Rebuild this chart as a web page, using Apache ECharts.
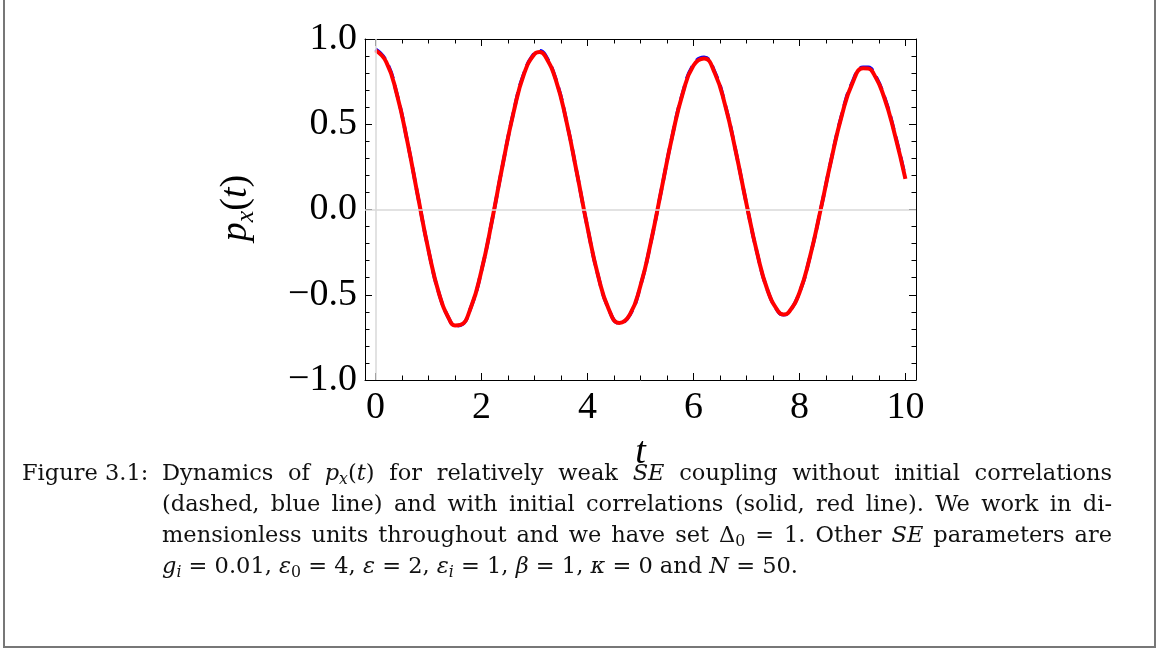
<!DOCTYPE html>
<html>
<head>
<meta charset="utf-8">
<script src="https://cdn.jsdelivr.net/npm/echarts@6/dist/echarts.min.js"></script>
<style>
    html, body { margin: 0; padding: 0; background: #fff; }
    #wrap { position: relative; width: 1160px; height: 651px; overflow: hidden; }
    #chart { position: absolute; left: 0; top: 0; width: 1160px; height: 651px; }
    #frame {
        position: absolute; left: 3px; top: -10px; width: 1153px; height: 658px;
        border-left: 2px solid #777; border-right: 2px solid #777; border-bottom: 2px solid #777;
        box-sizing: border-box;
    }
    #caption {
        position: absolute; left: 22px; top: 457px; width: 1090px;
        font-family: 'DejaVu Serif', serif; font-size: 22.5px; line-height: 31px; color: #111;
    }
    #caption .lab { position: absolute; left: 0; top: 0; }
    #caption .body { margin-left: 140px; }
    #caption .ln { text-align: justify; text-align-last: justify; white-space: nowrap; }
    #caption .ln.last { text-align: left; text-align-last: left; }
    #caption sub { font-size: 70%; vertical-align: -0.25em; line-height: 0; }
</style>
</head>
<body>
<div id="wrap">
    <div id="chart"></div>
    <div id="frame"></div>
    <div id="caption">
        <div class="lab">Figure 3.1:</div>
        <div class="body">
            <div class="ln">Dynamics of <i>p<sub>x</sub></i>(<i>t</i>) for relatively weak <i>SE</i> coupling without initial correlations</div>
            <div class="ln">(dashed, blue line) and with initial correlations (solid, red line). We work in di-</div>
            <div class="ln">mensionless units throughout and we have set Δ<sub>0</sub> = 1. Other <i>SE</i> parameters are</div>
            <div class="ln last"><i>g<sub>i</sub></i> = 0.01, <i>ε</i><sub>0</sub> = 4, <i>ε</i> = 2, <i>ε<sub>i</sub></i> = 1, <i>β</i> = 1, <i>κ</i> = 0 and <i>N</i> = 50.</div>
        </div>
    </div>
</div>
<script>
// 时间点与曲线数值
const tVals = [0, 0.2, 0.4, 0.6, 0.8, 1.0, 1.2, 1.4, 1.5, 1.6, 1.8, 2.0, 2.2, 2.4, 2.6, 2.8, 3.0, 3.1, 3.2, 3.4,
    3.6, 3.8, 4.0, 4.2, 4.4, 4.6, 4.8, 5.0, 5.2, 5.4, 5.6, 5.8, 6.0, 6.2, 6.4, 6.6, 6.8, 7.0, 7.2, 7.4,
    7.6, 7.7, 7.8, 8.0, 8.2, 8.4, 8.6, 8.8, 9.0, 9.2, 9.3, 9.4, 9.6, 9.8, 10.0];

// 有初始关联（实线，红色）
const redVals = [0.933, 0.866, 0.678, 0.398, 0.075, -0.241, -0.496, -0.650, -0.680, -0.677, -0.573, -0.356, -0.061, 0.264, 0.564, 0.794, 0.912, 0.924, 0.901, 0.762,
    0.520, 0.213, -0.106, -0.388, -0.584, -0.665, -0.616, -0.446, -0.185, 0.124, 0.430, 0.684, 0.845, 0.886, 0.802, 0.608, 0.337, 0.033, -0.253, -0.475,
    -0.598, -0.616, -0.602, -0.488, -0.275, -0.001, 0.291, 0.552, 0.741, 0.828, 0.827, 0.797, 0.657, 0.440, 0.180];

// 无初始关联（虚线，蓝色）
const blueVals = [0.940, 0.872, 0.680, 0.398, 0.075, -0.241, -0.496, -0.650, -0.682, -0.679, -0.573, -0.356, -0.061, 0.264, 0.566, 0.799, 0.918, 0.931, 0.908, 0.766,
    0.522, 0.213, -0.106, -0.388, -0.584, -0.667, -0.618, -0.446, -0.185, 0.124, 0.432, 0.688, 0.851, 0.893, 0.808, 0.612, 0.339, 0.033, -0.253, -0.475,
    -0.600, -0.618, -0.604, -0.488, -0.275, -0.001, 0.293, 0.557, 0.748, 0.835, 0.834, 0.805, 0.664, 0.447, 0.186];

const xTickLabels = ['0', '2', '4', '6', '8', '10'];
const yTickLabels = ['\u22121.0', '\u22120.5', '0.0', '0.5', '1.0'];

const FONT = 'Liberation Serif';
const chart = echarts.init(document.getElementById('chart'));

// 外框区域（t 从 -0.2 到 10.2）
const X0 = 365, X1 = 916, TOP = 39, BOTTOM = 380;
const unit = (X1 - X0) / 10.4;

const tickStyle = { color: '#000', width: 1 };
const frameLine = { show: true, onZero: false, lineStyle: { color: '#000', width: 1 } };

function pairs(vals) {
    return tVals.map((t, i) => [t, vals[i]]);
}

chart.setOption({
    animation: false,
    grid: [
        { left: X0, right: 1160 - X1, top: TOP, bottom: 651 - BOTTOM },
        { left: X0 + 0.2 * unit, right: 1160 - (X1 - 0.2 * unit), top: TOP, bottom: 651 - BOTTOM }
    ],
    xAxis: [
        {
            gridIndex: 0, type: 'value', min: -0.2, max: 10.2, position: 'bottom',
            axisLine: frameLine, axisTick: { show: false }, axisLabel: { show: false }, splitLine: { show: false }
        },
        {
            gridIndex: 0, type: 'value', min: -0.2, max: 10.2, position: 'top',
            axisLine: frameLine, axisTick: { show: false }, axisLabel: { show: false }, splitLine: { show: false }
        },
        {
            gridIndex: 1, type: 'value', min: 0, max: 10, interval: 2, position: 'bottom',
            axisLine: { show: false, onZero: false },
            axisTick: { show: true, inside: true, length: 7, lineStyle: tickStyle },
            minorTick: { show: true, splitNumber: 4, length: 4.5, lineStyle: tickStyle },
            axisLabel: {
                margin: 9, color: '#000', fontFamily: FONT, fontSize: 38,
                formatter: v => xTickLabels[Math.round(v / 2)]
            },
            splitLine: { show: false },
            name: 't', nameLocation: 'middle', nameGap: 54,
            nameTextStyle: { color: '#000', fontFamily: FONT, fontStyle: 'italic', fontSize: 38 }
        },
        {
            gridIndex: 1, type: 'value', min: 0, max: 10, interval: 2, position: 'top',
            axisLine: { show: false, onZero: false },
            axisTick: { show: true, inside: true, length: 7, lineStyle: tickStyle },
            minorTick: { show: true, splitNumber: 4, length: 4.5, lineStyle: tickStyle },
            axisLabel: { show: false }, splitLine: { show: false }
        }
    ],
    yAxis: [
        {
            gridIndex: 0, type: 'value', min: -1, max: 1, interval: 0.5, position: 'left',
            axisLine: frameLine,
            axisTick: { show: true, inside: true, length: 7, lineStyle: tickStyle },
            minorTick: { show: true, splitNumber: 5, length: 4.5, lineStyle: tickStyle },
            axisLabel: {
                margin: 8, color: '#000', fontFamily: FONT, fontSize: 38,
                formatter: v => yTickLabels[Math.round((v + 1) / 0.5)]
            },
            splitLine: { show: false }
        },
        {
            gridIndex: 0, type: 'value', min: -1, max: 1, interval: 0.5, position: 'right',
            axisLine: frameLine,
            axisTick: { show: true, inside: true, length: 7, lineStyle: tickStyle },
            minorTick: { show: true, splitNumber: 5, length: 4.5, lineStyle: tickStyle },
            axisLabel: { show: false }, splitLine: { show: false }
        },
        { gridIndex: 1, type: 'value', min: -1, max: 1, show: false }
    ],
    graphic: [
        {
            type: 'text', x: 236, y: 208, rotation: Math.PI / 2,
            style: {
                text: '{i|p}{s|x}{n|(}{i|t}{n|)}',
                align: 'center', verticalAlign: 'middle', fill: '#000',
                rich: {
                    i: { fontFamily: FONT, fontStyle: 'italic', fontSize: 38, lineHeight: 46 },
                    s: { fontFamily: FONT, fontStyle: 'italic', fontSize: 26, lineHeight: 22, verticalAlign: 'bottom' },
                    n: { fontFamily: FONT, fontSize: 38, lineHeight: 46 }
                }
            }
        }
    ],
    series: [
        {
            name: 'without correlations', type: 'line', xAxisIndex: 0, yAxisIndex: 0,
            data: pairs(blueVals), smooth: true, showSymbol: false,
            lineStyle: { color: '#0000ff', width: 3.5, type: 'dashed' },
            markLine: {
                silent: true, symbol: ['none', 'none'], label: { show: false },
                lineStyle: { color: '#d8d8d8', type: 'solid', width: 1.5 },
                data: [{ xAxis: 0 }, { yAxis: 0 }]
            },
            z: 2
        },
        {
            name: 'with correlations', type: 'line', xAxisIndex: 0, yAxisIndex: 0,
            data: pairs(redVals), smooth: true, showSymbol: false,
            lineStyle: { color: '#ff0000', width: 4 },
            z: 3
        }
    ]
});
</script>
</body>
</html>
